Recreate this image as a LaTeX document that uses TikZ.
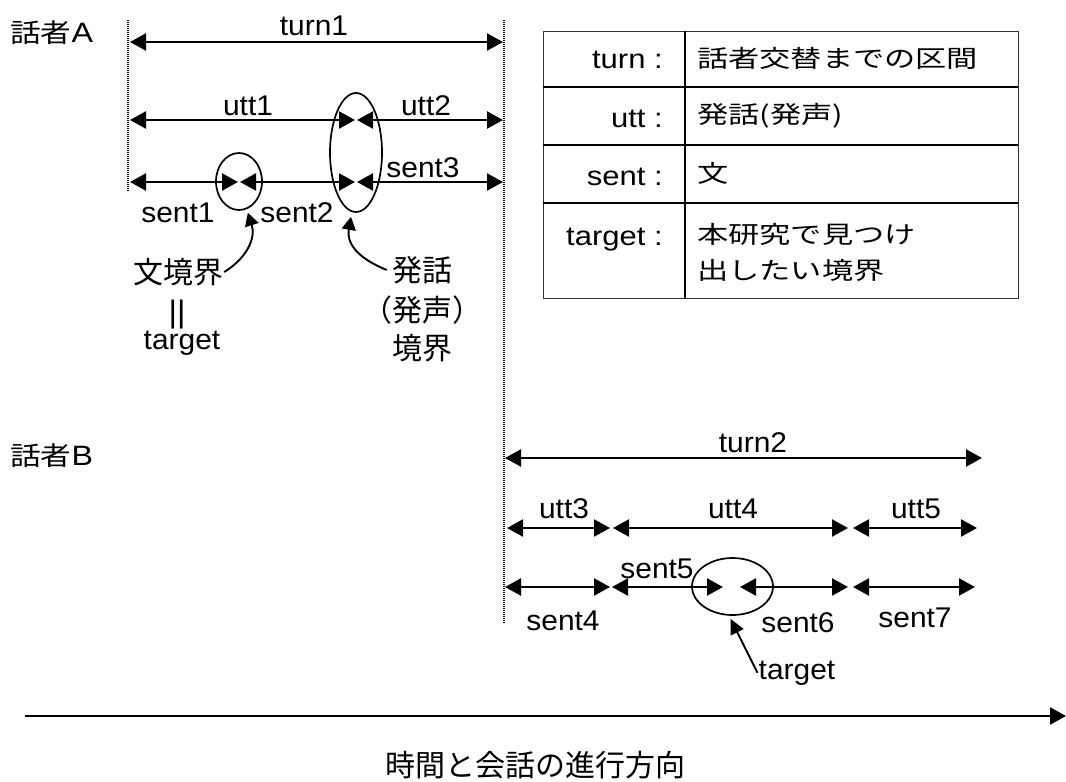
\documentclass[tikz,border=0pt]{standalone}
\usepackage{fontspec}
\setmainfont{Liberation Sans}[FakeStretch=1.05]
\newfontfamily\jp{Noto Sans CJK JP}
\newfontfamily\latwide{Liberation Sans}[FakeStretch=1.15]
\newfontfamily\jpwide{Noto Sans CJK JP}[FakeStretch=1.18]
\newfontfamily\jptable{Noto Sans CJK JP}[FakeStretch=1.3]
\usetikzlibrary{arrows.meta,shapes.geometric}

\begin{document}
\begin{tikzpicture}[x=1pt,y=-1pt,
  lbl/.style={font=\fontsize{28.5}{34}\selectfont, inner sep=1pt, anchor=base},
  jlbl/.style={font=\jp\fontsize{30}{36}\selectfont, inner sep=1pt},
  spk/.style={font=\jpwide\fontsize{26}{30}\selectfont, inner sep=0pt, anchor=west},
  tkey/.style={font=\latwide\fontsize{27}{30}\selectfont, inner sep=0pt, anchor=base east},
  tval/.style={font=\jptable\fontsize{24}{28}\selectfont, inner sep=0pt, anchor=west},
  span/.style={line width=2.3pt,
    {Triangle[length=16pt,width=17pt]}-{Triangle[length=16pt,width=17pt]}},
  pointer/.style={line width=1.9pt, -{Triangle[length=13pt,width=14pt]}},
  bound/.style={draw, ellipse, line width=1.7pt, inner sep=0pt},
  guide/.style={line width=1.1pt, dash pattern=on 1pt off 1pt},
  rule/.style={line width=2.2pt},
]
\useasboundingbox (0,0) rectangle (1066,782);

% speakers
\node[spk] (spkA) at (10,33) {話者{\latwide\fontsize{28}{30}\selectfont A}};
\node[spk] (spkB) at (10,456) {話者{\latwide\fontsize{28}{30}\selectfont B}};

% turn boundaries
\coordinate (gL0) at (128,20);  \coordinate (gL1) at (128,192);
\coordinate (gR0) at (504,20);  \coordinate (gR1) at (504,623);
\draw[guide] (gL0) -- (gL1);
\draw[guide] (gR0) -- (gR1);

% speaker A spans
\coordinate (tA0) at (130,42);  \coordinate (tA1) at (503,42);
\coordinate (uA0) at (130,120); \coordinate (uA1) at (355,120);
\coordinate (uA1b) at (357,120); \coordinate (uA2) at (503,120);
\coordinate (sA0) at (130,182); \coordinate (sA1) at (238,182);
\coordinate (sA1b) at (240,182); \coordinate (sA2) at (355,182);
\coordinate (sA2b) at (357,182); \coordinate (sA3) at (503,182);
\draw[span] (tA0) -- (tA1);
\draw[span] (uA0) -- (uA1);
\draw[span] (uA1b) -- (uA2);
\draw[span] (sA0) -- (sA1);
\draw[span] (sA1b) -- (sA2);
\draw[span] (sA2b) -- (sA3);

\node[lbl] (turn1) at (314,35) {turn1};
\node[lbl] (utt1) at (248,115) {utt1};
\node[lbl] (utt2) at (426,115) {utt2};
\node[lbl] (sent3) at (423,177) {sent3};
\node[lbl] (sent1) at (178,222) {sent1};
\node[lbl] (sent2) at (297,222) {sent2};

\node[bound, minimum width=46pt, minimum height=57pt] (e1) at (239,181.5) {};
\node[bound, minimum width=52pt, minimum height=119pt] (e2) at (356,152.5) {};

% annotations of speaker A
\node[jlbl] (w1) at (178,272) {文境界};
\node[lbl, font=\fontsize{31}{34}\selectfont] (w2) at (177,322) {||};
\node[lbl] (w3) at (182,349) {target};
\node[jlbl] (h1) at (422,270) {発話};
\node[jlbl] (h2) at (422,310) {（発声）};
\node[jlbl] (h3) at (422,348) {境界};
\draw[pointer] (w1.east) .. controls (247,258) and (256,238) .. ([yshift=-4pt]e1.-72);
\draw[pointer] ([xshift=-4pt]h1.west) .. controls (362,260) and (346,246) .. ([xshift=-5pt,yshift=-4pt]e2.south);

% legend table
\draw[line width=1pt, black!80] (543,31) rectangle (1018,298);
\draw[rule] (543,87) -- (1018,87);
\draw[rule] (543,145) -- (1018,145);
\draw[rule] (543,203) -- (1018,203);
\draw[line width=2.6pt] (685,31) -- (685,298);
\node[tkey] (k1) at (663,68) {turn :};
\node[tkey] (k2) at (663,127) {utt :};
\node[tkey] (k3) at (663,185) {sent :};
\node[tkey] (k4) at (663,245) {target :};
\node[tval] (v1) at (697,58) {話者交替までの区間};
\node[tval] (v2) at (697,116) {発話(発声)};
\node[tval] (v3) at (697,173) {文};
\node[tval] (v4) at (697,234) {本研究で見つけ};
\node[tval] (v5) at (697,270) {出したい境界};

% speaker B spans
\coordinate (tB0) at (505,458); \coordinate (tB1) at (982,458);
\coordinate (uB0) at (507,528); \coordinate (uB1) at (610,528);
\coordinate (uB1b) at (613,528); \coordinate (uB2) at (848,528);
\coordinate (uB2b) at (853,528); \coordinate (uB3) at (977,528);
\coordinate (sB0) at (505,587); \coordinate (sB1) at (610,587);
\coordinate (sB1b) at (612,587); \coordinate (sB2) at (723,587);
\coordinate (sB2b) at (740,587); \coordinate (sB3) at (848,587);
\coordinate (sB3b) at (853,587); \coordinate (sB4) at (975,587);
\draw[span] (tB0) -- (tB1);
\draw[span] (uB0) -- (uB1);
\draw[span] (uB1b) -- (uB2);
\draw[span] (uB2b) -- (uB3);
\draw[span] (sB0) -- (sB1);
\draw[span] (sB1b) -- (sB2);
\draw[span] (sB2b) -- (sB3);
\draw[span] (sB3b) -- (sB4);

\node[lbl] (turn2) at (753,452) {turn2};
\node[lbl] (utt3) at (564,518) {utt3};
\node[lbl] (utt4) at (733,518) {utt4};
\node[lbl] (utt5) at (916,518) {utt5};
\node[lbl] (sent5) at (657,578) {sent5};
\node[lbl] (sent4) at (563,630) {sent4};
\node[lbl] (sent6) at (798,632) {sent6};
\node[lbl] (sent7) at (915,627) {sent7};

\node[bound, minimum width=81pt, minimum height=57pt] (e3) at (732.5,586.5) {};
\node[lbl] (tgtB) at (797,679) {target};
\draw[line width=1.9pt, -{Triangle[length=15pt,width=14pt]}] (tgtB.west) -- ([xshift=-2pt,yshift=-3pt]e3.south);

% time axis
\coordinate (time0) at (25,716); \coordinate (time1) at (1066,716);
\draw[line width=2.5pt, -{Triangle[length=16pt,width=17pt]}] (time0) -- (time1);
\node[jlbl] (timelbl) at (535,765) {時間と会話の進行方向};
\end{tikzpicture}
\end{document}
